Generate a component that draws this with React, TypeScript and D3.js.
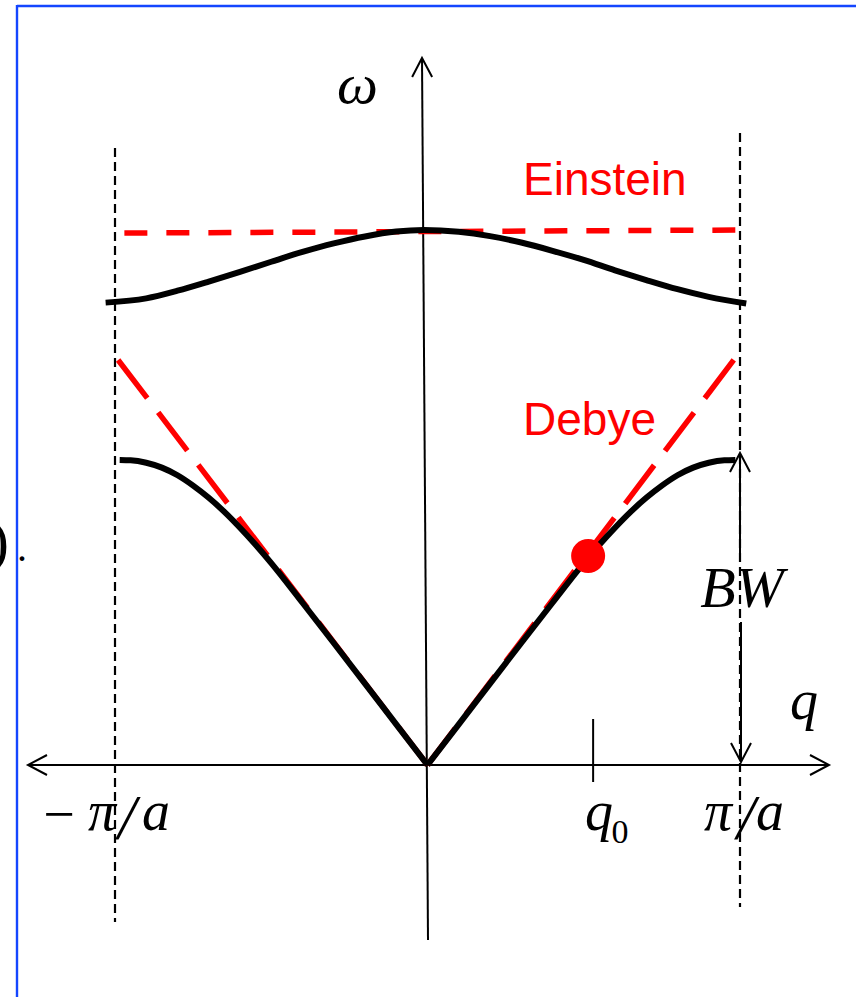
import React from "react";
import * as d3 from "d3";

// Reduced wavevector q in units of π/a, frequency ω in units of the acoustic band top (BW)
const acousticQ = [0, 0.1, 0.2, 0.3, 0.4, 0.5, 0.55, 0.6, 0.65, 0.7, 0.75, 0.8, 0.85, 0.9, 0.95, 0.985];
const acousticW = [0, 0.133, 0.267, 0.4, 0.532, 0.662, 0.722, 0.778, 0.83, 0.876, 0.916, 0.95, 0.975, 0.991, 0.999, 1.0];

const opticalQ = [-1.03, -0.9, -0.8, -0.7, -0.6, -0.5, -0.4, -0.3, -0.2, -0.1, -0.012, 0.1, 0.2, 0.3, 0.4, 0.5, 0.6, 0.7, 0.8, 0.9, 1.02];
const opticalW = [1.516, 1.53, 1.555, 1.585, 1.617, 1.65, 1.682, 1.71, 1.733, 1.749, 1.754, 1.748, 1.734, 1.713, 1.686, 1.656, 1.622, 1.59, 1.56, 1.535, 1.513];

const einsteinQ = [-0.97, 0.985];
const einsteinW = [1.744, 1.754];

const debyeLeftQ = [-0.99, 0];
const debyeLeftW = [1.328, 0];
const debyeRightQ = [0.98, 0];
const debyeRightW = [1.328, 0];

const zoneEdges = [-1, 1];
const q0 = 0.53;
const markerQ = 0.514;
const markerW = 0.685;

const W = 856;
const H = 997;
const RED = "#ff0000";
const SERIF = "'Liberation Serif', 'Times New Roman', serif";
const SANS = "'Liberation Sans', Arial, sans-serif";

export default function App() {
  const x = d3.scaleLinear().domain([-1, 1]).range([115, 740]);
  const y = d3.scaleLinear().domain([0, 1]).range([765, 460]);

  const pts = (qs: number[], ws: number[]) => qs.map((q, i) => [q, ws[i]] as [number, number]);
  const smooth = d3
    .line<[number, number]>()
    .x((d) => x(d[0]))
    .y((d) => y(d[1]))
    .curve(d3.curveMonotoneX);
  const straight = d3
    .line<[number, number]>()
    .x((d) => x(d[0]))
    .y((d) => y(d[1]));

  const acRight = pts(acousticQ, acousticW);
  const acLeft = pts(acousticQ.map((q) => -q), acousticW).reverse();

  const x0 = x(0);
  const y0 = y(0);
  const xe = x(1);

  const chevron = (ax: number, ay: number, dx: number, dy: number, len = 19, spread = 10) => {
    // open arrow head pointing along (dx, dy) with apex at (ax, ay)
    const n = Math.hypot(dx, dy);
    const ux = dx / n;
    const uy = dy / n;
    const bx = ax - ux * len;
    const by = ay - uy * len;
    return `M${bx - uy * spread},${by + ux * spread}L${ax},${ay}L${bx + uy * spread},${by - ux * spread}`;
  };

  return (
    <svg
      width={W}
      height={H}
      viewBox={`0 0 ${W} ${H}`}
      style={{ position: "absolute", left: 0, top: 0, background: "#fff" }}
    >
      {/* frame */}
      <line x1={17} y1={6} x2={W} y2={6} stroke="#1446ff" strokeWidth={2.4} />
      <line x1={17} y1={5} x2={17} y2={H} stroke="#1446ff" strokeWidth={2.4} />
      <text x={9} y={561} fontFamily={SERIF} fontSize={60} textAnchor="end">)</text>
      <text x={17} y={561} fontFamily={SERIF} fontSize={40}>.</text>

      {/* Brillouin zone boundaries */}
      <line x1={x(zoneEdges[0])} y1={148} x2={x(zoneEdges[0])} y2={922} stroke="#000" strokeWidth={2.2} strokeDasharray="9,5" />
      <line x1={x(zoneEdges[1])} y1={133} x2={x(zoneEdges[1])} y2={907} stroke="#000" strokeWidth={2.2} strokeDasharray="9,5" />

      {/* axes */}
      <line x1={28} y1={y0} x2={829} y2={y0} stroke="#000" strokeWidth={2} />
      <path d={chevron(28, y0, -1, 0)} fill="none" stroke="#000" strokeWidth={2} />
      <path d={chevron(829, y0, 1, 0)} fill="none" stroke="#000" strokeWidth={2} />
      <line x1={x0 - 5.5} y1={58} x2={x0 + 0.5} y2={940} stroke="#000" strokeWidth={2} />
      <path d={chevron(x0 - 5.5, 58, -6 / 882, -1)} fill="none" stroke="#000" strokeWidth={2} />

      {/* q0 tick */}
      <line x1={x(q0)} y1={y0 - 46} x2={x(q0)} y2={y0 + 17} stroke="#000" strokeWidth={2} />

      {/* Einstein and Debye approximations */}
      <path d={straight(pts(einsteinQ, einsteinW)) || ""} fill="none" stroke={RED} strokeWidth={5.5} strokeDasharray="23,19" />
      <path d={straight(pts(debyeLeftQ, debyeLeftW)) || ""} fill="none" stroke={RED} strokeWidth={5.5} strokeDasharray="48,18" />
      <path d={straight(pts(debyeRightQ, debyeRightW)) || ""} fill="none" stroke={RED} strokeWidth={5.5} strokeDasharray="48,18" />

      {/* dispersion branches */}
      <path d={smooth(pts(opticalQ, opticalW)) || ""} fill="none" stroke="#000" strokeWidth={6} />
      <path d={smooth(acLeft) || ""} fill="none" stroke="#000" strokeWidth={6} />
      <path d={smooth(acRight) || ""} fill="none" stroke="#000" strokeWidth={6} />

      <circle cx={x(markerQ)} cy={y(markerW)} r={17} fill={RED} />

      {/* bandwidth arrow */}
      <line x1={xe} y1={y(1) - 7} x2={xe} y2={553} stroke="#000" strokeWidth={2} />
      <path d={chevron(xe, y(1) - 7, 0, -1)} fill="none" stroke="#000" strokeWidth={2} />
      <line x1={xe + 1} y1={622} x2={xe + 1} y2={y0 - 3} stroke="#000" strokeWidth={2} />
      <path d={chevron(xe + 1, y0 - 3, 0, 1)} fill="none" stroke="#000" strokeWidth={2} />

      {/* labels */}
      <text x={337} y={103} fontFamily={SERIF} fontStyle="italic" fontSize={58}>ω</text>
      <text x={790} y={719} fontFamily={SERIF} fontStyle="italic" fontSize={56}>q</text>
      <text x={742} y={607} fontFamily={SERIF} fontStyle="italic" fontSize={58} textAnchor="middle">BW</text>
      <text x={523} y={195} fontFamily={SANS} fontSize={46} fill={RED}>Einstein</text>
      <text x={523} y={435} fontFamily={SANS} fontSize={46} fill={RED}>Debye</text>

      <g fontFamily={SERIF} fontSize={56} textAnchor="middle">
        <text x={59} y={833}>−</text>
        <text x={102} y={830} fontStyle="italic">π</text>
        <text x={127} y={839} fontStyle="italic" fontSize={64}>/</text>
        <text x={156} y={830} fontStyle="italic">a</text>

        <text x={718} y={830} fontStyle="italic">π</text>
        <text x={746} y={839} fontStyle="italic" fontSize={64}>/</text>
        <text x={770} y={830} fontStyle="italic">a</text>

        <text x={599} y={830} fontStyle="italic">q</text>
        <text x={620} y={843} fontSize={34}>0</text>
      </g>
    </svg>
  );
}
